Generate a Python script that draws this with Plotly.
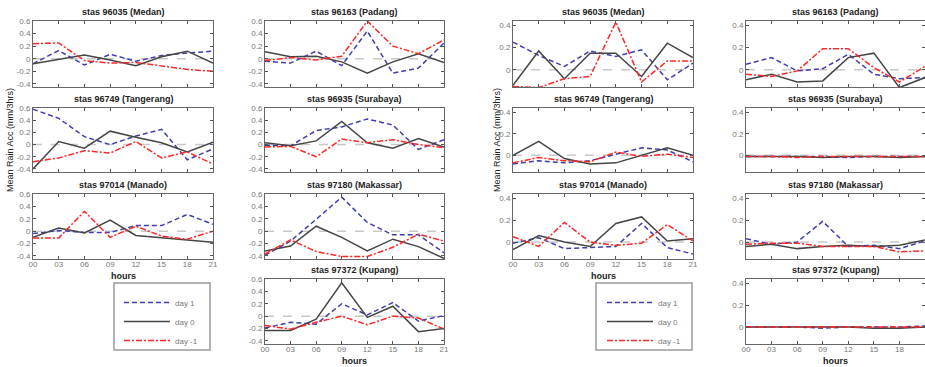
import plotly.graph_objects as go

HOURS = [0, 3, 6, 9, 12, 15, 18, 21]
HOUR_LABELS = ["00", "03", "06", "09", "12", "15", "18", "21"]
STATIONS = ["stas 96035 (Medan)", "stas 96163 (Padang)", "stas 96749 (Tangerang)",
            "stas 96935 (Surabaya)", "stas 97014 (Manado)", "stas 97180 (Makassar)",
            "stas 97372 (Kupang)"]
SERIES_NAMES = ["day 1", "day 0", "day -1"]

# Left panel (one list per station)
LEFT_DAY1 = [
    [-0.08, 0.13, -0.10, 0.07, -0.04, 0.05, 0.09, 0.12],
    [-0.04, -0.07, 0.12, -0.11, 0.44, -0.23, -0.15, 0.25],
    [0.58, 0.43, 0.13, 0.00, 0.14, 0.25, -0.25, -0.07],
    [-0.01, -0.02, 0.23, 0.29, 0.42, 0.32, -0.08, 0.08],
    [-0.04, 0.01, -0.02, -0.02, 0.09, 0.09, 0.27, 0.11],
    [-0.39, -0.16, 0.19, 0.55, 0.14, -0.06, -0.06, -0.35],
    [-0.19, -0.10, -0.13, 0.20, 0.02, 0.22, -0.08, 0.01],
]
LEFT_DAY0 = [
    [-0.08, -0.01, 0.06, -0.02, -0.11, 0.03, 0.12, -0.07],
    [0.11, 0.03, 0.04, -0.05, -0.23, -0.05, 0.08, -0.06],
    [-0.40, 0.05, -0.06, 0.22, 0.12, 0.03, -0.12, 0.04],
    [0.03, -0.02, 0.06, 0.38, 0.03, -0.06, 0.10, -0.04],
    [-0.10, 0.05, -0.03, 0.18, -0.07, -0.11, -0.15, -0.18],
    [-0.32, -0.24, 0.08, -0.10, -0.32, -0.13, -0.25, -0.44],
    [-0.23, -0.23, -0.05, 0.54, -0.02, 0.16, -0.25, -0.20],
]
LEFT_DAYM1 = [
    [0.24, 0.25, -0.03, -0.07, -0.06, -0.12, -0.17, -0.20],
    [-0.03, 0.02, -0.02, 0.04, 0.60, 0.20, 0.08, 0.30],
    [-0.28, -0.22, -0.10, -0.14, 0.05, -0.22, -0.12, -0.32],
    [-0.04, -0.03, -0.20, 0.09, 0.03, 0.08, 0.00, -0.05],
    [-0.11, -0.11, 0.32, -0.10, 0.08, -0.08, -0.13, 0.00],
    [-0.37, -0.14, -0.33, -0.41, -0.41, -0.26, -0.05, -0.16],
    [-0.15, -0.21, -0.10, 0.00, -0.14, 0.00, -0.03, -0.21],
]

# Right panel
RIGHT_DAY1 = [
    [0.25, 0.13, 0.03, 0.17, 0.12, 0.18, -0.09, 0.06],
    [0.05, 0.11, -0.01, 0.01, 0.14, -0.04, -0.08, -0.07],
    [-0.08, -0.05, -0.07, -0.05, 0.01, 0.07, 0.05, -0.06],
    [-0.01, -0.01, -0.01, -0.01, -0.02, -0.01, -0.01, -0.01],
    [-0.01, 0.04, -0.06, -0.05, -0.04, 0.17, -0.05, -0.11],
    [0.03, -0.02, 0.00, 0.19, -0.04, -0.03, -0.06, 0.01],
    [0.00, 0.00, 0.00, -0.01, 0.00, 0.00, 0.00, 0.01],
]
RIGHT_DAY0 = [
    [-0.14, 0.17, -0.08, 0.15, 0.15, -0.06, 0.24, 0.11],
    [-0.09, -0.04, -0.11, -0.10, 0.11, 0.15, -0.16, -0.07],
    [0.00, 0.13, -0.03, -0.08, -0.07, 0.00, 0.07, 0.00],
    [-0.01, -0.01, -0.01, -0.02, -0.01, -0.01, -0.02, -0.01],
    [-0.07, 0.06, 0.00, -0.04, 0.17, 0.23, 0.01, 0.03],
    [-0.04, -0.02, -0.06, -0.04, -0.03, -0.04, -0.03, 0.02],
    [0.00, 0.00, 0.00, 0.00, 0.00, -0.01, -0.01, 0.00],
]
RIGHT_DAYM1 = [
    [-0.15, -0.16, -0.08, -0.06, 0.43, -0.11, 0.08, 0.08],
    [-0.04, -0.06, -0.01, 0.19, 0.19, 0.02, -0.11, 0.03],
    [-0.07, -0.02, -0.05, -0.06, 0.03, -0.01, 0.01, -0.02],
    [-0.01, -0.01, -0.02, -0.01, -0.01, -0.01, -0.01, -0.01],
    [0.05, -0.04, 0.18, 0.00, -0.03, -0.01, 0.16, 0.01],
    [-0.02, -0.01, -0.01, -0.04, -0.04, -0.04, -0.09, -0.08],
    [0.00, 0.00, 0.00, 0.00, 0.00, 0.00, 0.00, 0.00],
]

W, H = 925, 367
FONT = "Liberation Sans, Arial, sans-serif"
COLORS = ["#3e3eb0", "#454545", "#ff2626"]
DASHES = ["5px,3px", "solid", "6px,2px,2px,2px"]

COL_PX = [[(33, 213), (265, 444)], [(513, 693), (746, 925)]]
ROW_PX = [(21, 87), (108, 172), (194, 259), (279, 344)]
GRID = [(0, 0), (0, 1), (1, 0), (1, 1), (2, 0), (2, 1), (3, 1)]
YRANGES = [[-0.45, 0.6], [-0.155, 0.44]]
YTICKS = [[-0.4, -0.2, 0, 0.2, 0.4, 0.6], [0, 0.2, 0.4]]

PANELS = [[LEFT_DAY1, LEFT_DAY0, LEFT_DAYM1], [RIGHT_DAY1, RIGHT_DAY0, RIGHT_DAYM1]]

fig = go.Figure()
layout = {}
annotations = []
shapes = []

for p in range(2):
    for i, st in enumerate(STATIONS):
        n = p * 7 + i + 1
        r, c = GRID[i]
        x0, x1 = COL_PX[p][c]
        yt, yb = ROW_PX[r]
        xa = "xaxis" if n == 1 else f"xaxis{n}"
        ya = "yaxis" if n == 1 else f"yaxis{n}"
        xs = "x" if n == 1 else f"x{n}"
        ys = "y" if n == 1 else f"y{n}"
        show_x = (i == 4 or i == 6)
        layout[xa] = dict(domain=[x0 / W, x1 / W], anchor=ys, range=[0, 21],
                          tickvals=HOURS, ticktext=HOUR_LABELS, showticklabels=show_x,
                          ticks="inside", ticklen=3, tickcolor="#555", showline=True,
                          linecolor="#666", linewidth=1, mirror="ticks", showgrid=False,
                          zeroline=False, automargin=False, ticklabelstandoff=-3,
                          tickfont=dict(family=FONT, size=8, color="#777"))
        layout[ya] = dict(domain=[1 - yb / H, 1 - yt / H], anchor=xs, range=YRANGES[p],
                          tickvals=YTICKS[p], ticktext=[f"{v:g}" for v in YTICKS[p]],
                          ticks="inside", ticklen=3, tickcolor="#555", showline=True,
                          linecolor="#666", linewidth=1, mirror="ticks", showgrid=False,
                          zeroline=False, automargin=False,
                          tickfont=dict(family=FONT, size=8, color="#777"))
        shapes.append(dict(type="line", xref=f"{xs} domain", x0=0, x1=1, yref=ys, y0=0, y1=0,
                           line=dict(color="#c8c8c8", width=1.5, dash="dash"), layer="below"))
        annotations.append(dict(text=f"<b>{st}</b>", x=(x0 + x1) / 2 / W, y=1 - yt / H,
                                xref="paper", yref="paper", xanchor="center", yanchor="bottom",
                                yshift=2, showarrow=False,
                                font=dict(family=FONT, size=9, color="#222")))
        if show_x:
            annotations.append(dict(text="<b>hours</b>", x=(x0 + x1) / 2 / W, y=1 - (yb + 17) / H,
                                    xref="paper", yref="paper", xanchor="center", yanchor="middle",
                                    showarrow=False, font=dict(family=FONT, size=9, color="#222")))
        for s in range(3):
            fig.add_trace(go.Scatter(
                x=HOURS, y=PANELS[p][s][i], mode="lines", name=SERIES_NAMES[s],
                xaxis=xs, yaxis=ys, legend="legend" if p == 0 else "legend2",
                showlegend=(i == 0), legendgroup=SERIES_NAMES[s],
                line=dict(color=COLORS[s], dash=DASHES[s], width=1.5)))

    # y-axis label
    lx = [10, 497][p]
    annotations.append(dict(text="Mean Rain Acc (mm/3hrs)", x=lx / W, y=1 - 140 / H,
                            xref="paper", yref="paper", xanchor="center", yanchor="middle",
                            textangle=-90, showarrow=False,
                            font=dict(family=FONT, size=9, color="#222")))
    # legend box
    bx0, bx1 = [(114, 210), (596, 692)][p]
    shapes.append(dict(type="rect", xref="paper", yref="paper", x0=bx0 / W, x1=bx1 / W,
                       y0=1 - 350 / H, y1=1 - 283 / H, line=dict(color="#9a9a9a", width=1.5)))

leg_common = dict(xanchor="left", yanchor="top", bgcolor="rgba(0,0,0,0)",
                  borderwidth=0, itemwidth=46, tracegroupgap=0,
                  font=dict(family=FONT, size=8, color="#777"), orientation="v")
layout["legend"] = dict(x=119 / W, y=1 - 288 / H, **leg_common)
layout["legend2"] = dict(x=602 / W, y=1 - 288 / H, **leg_common)

fig.update_layout(width=W, height=H, margin=dict(l=0, r=0, t=0, b=0),
                  template="none", paper_bgcolor="white", plot_bgcolor="white",
                  annotations=annotations, shapes=shapes, **layout)
fig.write_html("out.html", config={"displayModeBar": False},
               post_script="document.body.style.margin='0px';document.body.style.overflow='hidden';")
